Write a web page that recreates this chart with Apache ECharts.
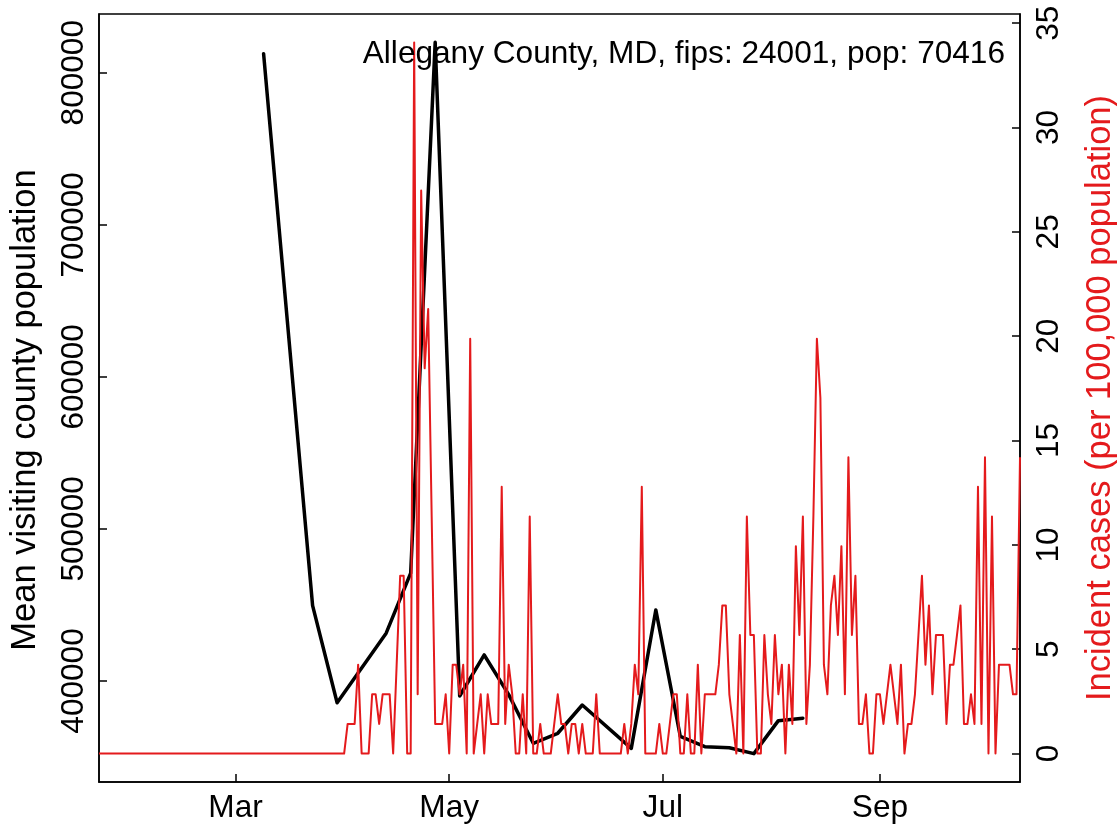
<!DOCTYPE html>
<html>
<head>
<meta charset="utf-8">
<script src="https://cdn.jsdelivr.net/npm/echarts@6/dist/echarts.min.js"></script>
<style>
html,body{margin:0;padding:0;background:#fff;}
#chart{width:1119px;height:831px;}
</style>
</head>
<body>
<div id="chart"></div>
<script>
// ---- data ----
const titleText = 'Allegany County, MD, fips: 24001, pop: 70416';
const leftAxisTitle = 'Mean visiting county population';
const rightAxisTitle = 'Incident cases (per 100,000 population)';

const firstDay = '2020-01-22';
const lastDay = '2020-10-11';

const monthTicks = ['2020-03-01', '2020-05-01', '2020-07-01', '2020-09-01'];
const monthLabels = ['Mar', 'May', 'Jul', 'Sep'];

const leftTicks = [400000, 500000, 600000, 700000, 800000];
const rightTicks = [0, 5, 10, 15, 20, 25, 30, 35];

// weekly mean visiting county population
const visitDates = ['2020-03-09','2020-03-23','2020-03-30','2020-04-13','2020-04-20','2020-04-27',
  '2020-05-04','2020-05-11','2020-05-18','2020-05-25','2020-06-01','2020-06-08','2020-06-22',
  '2020-06-29','2020-07-06','2020-07-13','2020-07-20','2020-07-27','2020-08-03','2020-08-10'];
const visitPop = [812500, 449500, 385700, 431400, 470900, 820000,
  390100, 417100, 391000, 359000, 365600, 384200, 355700,
  446700, 363500, 356800, 356100, 352200, 373900, 375500];

// daily incident cases per 100,000, from 2020-01-22 to 2020-10-11
const incidence = [
  0,0,0,0,0,0,0,0,0,0, 0,0,0,0,0,0,0,0,0,0,
  0,0,0,0,0,0,0,0,0,0, 0,0,0,0,0,0,0,0,0,0,
  0,0,0,0,0,0,0,0,0,0, 0,0,0,0,0,0,0,0,0,0,
  0,0,0,0,0,0,0,0,0,0, 0,
  1.42,1.42,1.42,4.26,0,0,0,2.84,2.84,1.42,
  2.84,2.84,2.84,0,4.26,8.52,8.52,0,0,34.08,
  2.84,26.98,18.46,21.30,11.36,1.42,1.42,1.42,2.84,0,
  4.26,4.26,2.84,4.26,0,19.88,0,1.42,2.84,0,
  2.84,1.42,1.42,1.42,12.78,1.42,4.26,2.84,0,0,
  2.84,0,11.36,0,0,1.42,0,0,0,1.42,
  2.84,1.42,1.42,0,1.42,1.42,0,1.42,0,0,
  0,2.84,0,0,0,0,0,0,0,1.42,
  0,1.42,4.26,2.84,12.78,0,0,0,0,1.42,
  0,0,1.42,2.84,2.84,0,0,2.84,0,0,
  4.26,0,2.84,2.84,2.84,2.84,4.26,7.10,7.10,2.84,
  1.42,0,5.68,0,11.36,5.68,5.68,0,0,5.68,
  2.84,1.42,5.68,2.84,4.26,0,4.26,1.42,9.94,5.68,
  11.36,1.42,4.26,11.36,19.88,17.04,4.26,2.84,7.10,8.52,
  5.68,9.94,2.84,14.20,5.68,8.52,1.42,1.42,2.84,0,
  0,2.84,2.84,1.42,2.84,4.26,2.84,1.42,4.26,0,
  1.42,1.42,2.84,5.68,8.52,4.26,7.10,2.84,5.68,5.68,
  5.68,1.42,4.26,4.26,5.68,7.10,1.42,1.42,2.84,1.42,
  12.78,1.42,14.20,0,11.36,0,4.26,4.26,4.26,4.26,
  2.84,2.84,14.20
];

// ---- build day categories ----
function isoDay(t){ return new Date(t).toISOString().slice(0,10); }
const dayCats = [];
for (let t = Date.parse(firstDay + 'T00:00:00Z'); t <= Date.parse(lastDay + 'T00:00:00Z'); t += 86400000) {
  dayCats.push(isoDay(t));
}

const RED = '#E41A1C';
const FONT = 'Liberation Sans, Arial, Helvetica, sans-serif';
const FS = 31.6;
const FS_TITLE = 34.5;

const chart = echarts.init(document.getElementById('chart'), null, {renderer: 'canvas'});
chart.setOption({
  animation: false,
  backgroundColor: '#fff',
  textStyle: {fontFamily: FONT},
  grid: {left: 99, right: 99, top: 14, bottom: 49, show: true, borderColor: '#000', borderWidth: 1.5,
         containLabel: false, outerBoundsMode: 'none'},
  xAxis: {
    type: 'category',
    data: dayCats,
    boundaryGap: false,
    axisLine: {show: true, onZero: false, lineStyle: {color: '#000', width: 1.5}},
    axisTick: {show: true, inside: true, length: 8, lineStyle: {color: '#000', width: 1.5},
      interval: function (i, v) { return monthTicks.indexOf(v) >= 0; }},
    axisLabel: {show: true, color: '#000', fontSize: FS, fontFamily: FONT, margin: 10,
      interval: function (i, v) { return monthTicks.indexOf(v) >= 0; },
      formatter: function (v) { const k = monthTicks.indexOf(v); return k >= 0 ? monthLabels[k] : ''; }},
    splitLine: {show: false}
  },
  yAxis: [{
    type: 'value', position: 'left',
    min: 333552, max: 838619,
    axisLine: {show: true, onZero: false, lineStyle: {color: '#000', width: 1.5}},
    axisTick: {show: true, inside: true, length: 8, lineStyle: {color: '#000', width: 1.5}, customValues: leftTicks},
    axisLabel: {show: true, color: '#000', fontSize: FS, fontFamily: FONT, rotate: 90, margin: 9,
      customValues: leftTicks, formatter: function (v) { return String(Math.round(v)); }},
    splitLine: {show: false}
  }, {
    type: 'value', position: 'right',
    min: -1.363, max: 35.44,
    axisLine: {show: true, onZero: false, lineStyle: {color: '#000', width: 1.5}},
    axisTick: {show: true, inside: true, length: 8, lineStyle: {color: '#000', width: 1.5}, customValues: rightTicks},
    axisLabel: {show: true, color: '#000', fontSize: FS, fontFamily: FONT, rotate: 90, margin: 13,
      customValues: rightTicks, formatter: function (v) { return String(Math.round(v)); }},
    splitLine: {show: false}
  }],
  graphic: [
    {type: 'text', x: 1005, y: 54, z: 100,
     style: {text: titleText, font: FS + 'px ' + FONT, fill: '#000', textAlign: 'right', textVerticalAlign: 'middle'}},
    {type: 'text', x: 25, y: 410, rotation: Math.PI / 2, z: 100,
     style: {text: leftAxisTitle, font: FS_TITLE + 'px ' + FONT, fill: '#000', textAlign: 'center', textVerticalAlign: 'middle'}},
    {type: 'text', x: 1100, y: 398, rotation: Math.PI / 2, z: 100,
     style: {text: rightAxisTitle, font: FS_TITLE + 'px ' + FONT, fill: RED, textAlign: 'center', textVerticalAlign: 'middle'}}
  ],
  series: [{
    name: 'visiting', type: 'line', xAxisIndex: 0, yAxisIndex: 0,
    data: visitDates.map(function (d, i) { return [d, visitPop[i]]; }),
    showSymbol: false, symbol: 'none', connectNulls: true,
    lineStyle: {color: '#000', width: 3.5, join: 'round', cap: 'round'}, z: 2
  }, {
    name: 'incidence', type: 'line', xAxisIndex: 0, yAxisIndex: 1,
    data: incidence,
    showSymbol: false, symbol: 'none',
    lineStyle: {color: RED, width: 2, join: 'round'}, z: 3
  }]
});
</script>
</body>
</html>
